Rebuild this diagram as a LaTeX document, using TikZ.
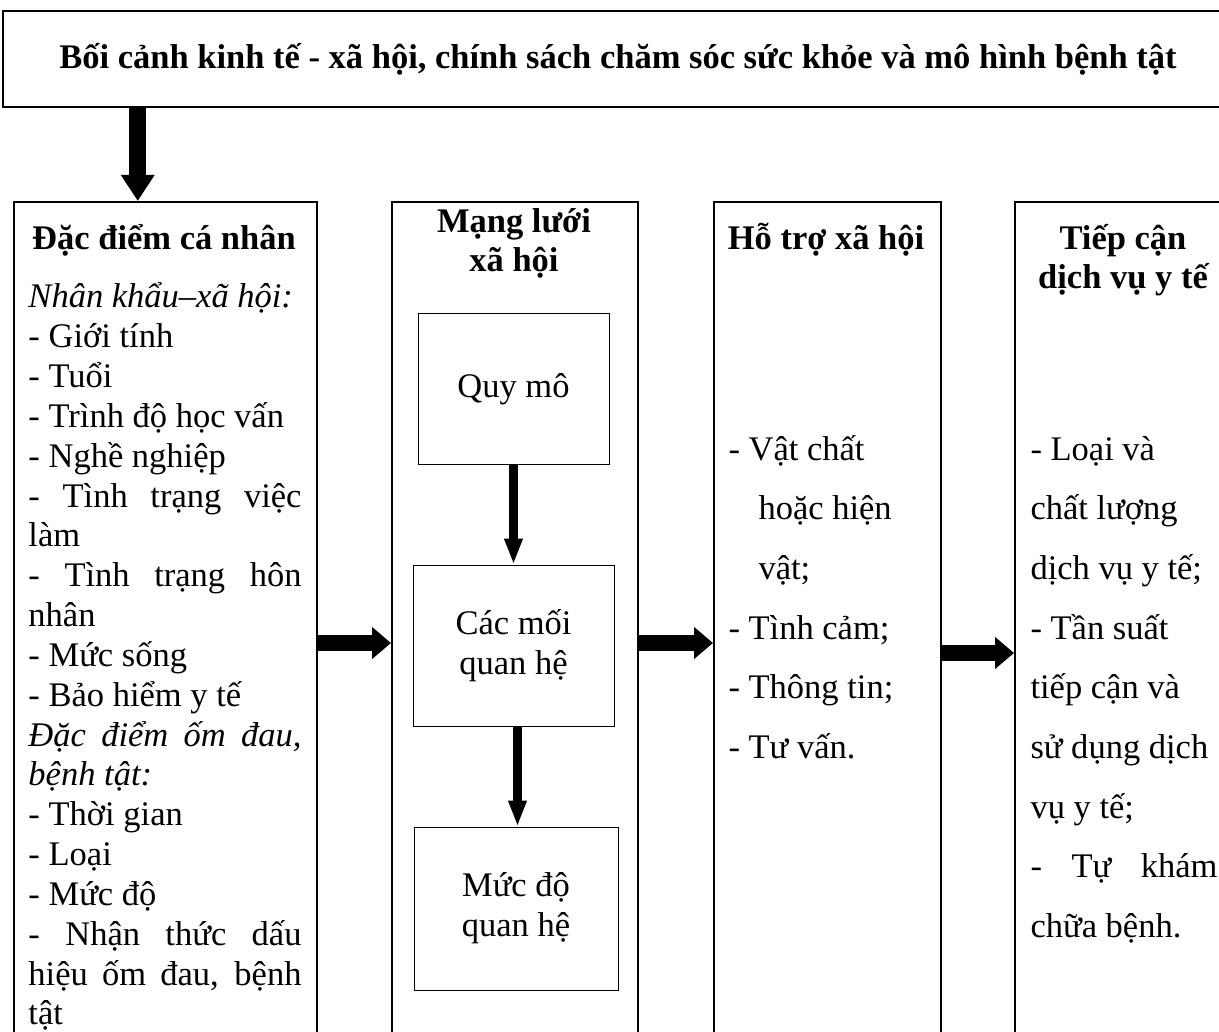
\documentclass[tikz,border=0pt]{standalone}
\usepackage{fontspec}
\setmainfont{Liberation Serif}
\usepackage{tikz}
\usetikzlibrary{arrows.meta,positioning}

\newcommand\bodyfont{\fontsize{13.8pt}{15.93pt}\selectfont}
\newcommand\widefont{\fontsize{13.8pt}{23.88pt}\selectfont}
\newcommand\spread[2][109.2pt]{\makebox[#1][s]{#2}}

\begin{document}
\begin{tikzpicture}[
  x=0.4pt, y=-0.4pt,
  font=\bodyfont,
  outerbox/.style={
    draw,
    line width=0.8pt,
    inner sep=0pt
  },
  column/.style={outerbox, minimum height=352.8pt, anchor=north west},
  innerbox/.style={draw, line width=0.4pt, align=center, inner sep=0pt},
  heading/.style={font=\bodyfont\bfseries, align=center, anchor=base, inner sep=0pt},
  bodytext/.style={align=flush left, anchor=base west, inner sep=0pt},
  bigarrow/.style={-{Triangle[length=7.6pt,width=12.4pt]}, line width=6.4pt},
  downarrow/.style={-{Triangle[length=10.4pt,width=12.8pt]}, line width=6.8pt},
  smallarrow/.style={-{Triangle[length=10.4pt,width=6.8pt]}, line width=3.6pt}
]
\useasboundingbox (0,0) rectangle (1219,1032);
\clip (0,0) rectangle (1219,1032);

\def\XPers{13}
\def\XNet{391}
\def\XSup{713}
\def\XAcc{1014}

% context box on top
\node[outerbox, minimum width=492pt, minimum height=38.4pt, font=\bodyfont\bfseries] (context) at (618,59)
{Bối cảnh kinh tế - xã hội, chính sách chăm sóc sức khỏe và mô hình bệnh tật};

% the four columns
\node[column, minimum width=121pt] (personal) at (\XPers,201) {};
\node[column, minimum width=98.4pt] (network) at (\XNet,201) {};
\node[column, minimum width=90.6pt] (support) at (\XSup,201) {};
\node[column, minimum width=87.2pt] (access) at (\XAcc,201) {};

% multi-line headings sit on their last baseline
\node[heading] (personalhead) at (164,250) {Đặc điểm cá nhân};
\node[heading] (networkhead) at (514,272) {Mạng lưới\\xã hội};
\node[heading] (supporthead) at (826,250) {Hỗ trợ xã hội};
\node[heading] (accesshead) at (1123,289) {Tiếp cận\\dịch vụ y tế};

\node[bodytext, text width=109.2pt] (personalbody) at (28,308)
{\textit{Nhân khẩu–xã hội:}\\
- Giới tính\\
- Tuổi\\
- Trình độ học vấn\\
- Nghề nghiệp\\
\spread{- Tình trạng việc}\\
làm\\
\spread{- Tình trạng hôn}\\
nhân\\
- Mức sống\\
- Bảo hiểm y tế\\
\spread{\itshape Đặc điểm ốm đau,}\\
\textit{bệnh tật:}\\
- Thời gian\\
- Loại\\
- Mức độ\\
\spread{- Nhận thức dấu}\\
\spread{hiệu ốm đau, bệnh}\\
tật};

\node[innerbox, minimum width=76.4pt, minimum height=60pt] (scale) at (513.5,389) {Quy mô};
\node[innerbox, minimum width=80.4pt, minimum height=64.4pt] (ties) at (513.5,645.5) {Các mối\\quan hệ};
\node[innerbox, minimum width=81.6pt, minimum height=65.2pt] (strength) at (516,908.5) {Mức độ\\quan hệ};

\node[bodytext, text width=80pt, font=\widefont] (supportbody) at (728,460)
{- Vật chất\\
\hspace*{12pt}hoặc hiện\\
\hspace*{12pt}vật;\\
- Tình cảm;\\
- Thông tin;\\
- Tư vấn.};

\node[bodytext, text width=74.8pt, font=\widefont] (accessbody) at (1030,460)
{- Loại và\\
chất lượng\\
dịch vụ y tế;\\
- Tần suất\\
tiếp cận và\\
sử dụng dịch\\
vụ y tế;\\
\spread[74.8pt]{- Tự khám}\\
chữa bệnh.};

% arrows
\draw[downarrow] ([xshift=-11pt]personal.north |- context.south) -- ([xshift=-11pt]personal.north);
\draw[bigarrow] (personal.east) -- (network.west);
\draw[bigarrow] (network.east) -- (support.west);
\draw[bigarrow] ([yshift=-4pt]support.east) -- ([yshift=-4pt]access.west);
\draw[smallarrow] (scale) -- (ties);
\draw[smallarrow] ([xshift=1.6pt]ties.south) -- ([xshift=1.6pt]ties.south |- strength.north);
\end{tikzpicture}
\end{document}
